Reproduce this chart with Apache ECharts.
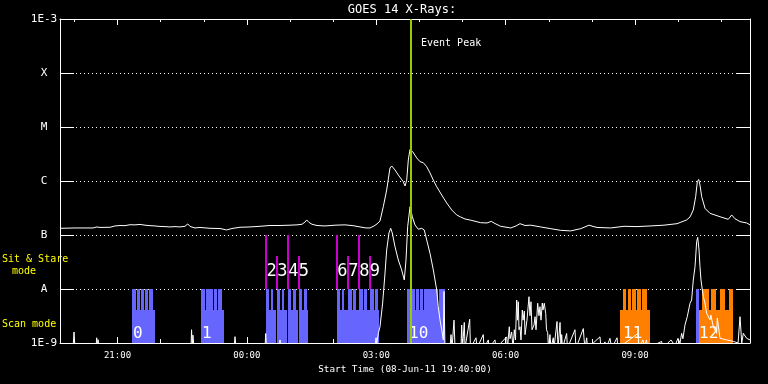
<!DOCTYPE html>
<html><head><meta charset="utf-8">
<script src="https://cdn.jsdelivr.net/npm/echarts@6/dist/echarts.min.js"></script>
<style>html,body{margin:0;padding:0;background:#000}#c{width:768px;height:384px}</style>
</head><body><div id="c"></div>
<script>
// All times: minutes after 08-Jun-11 00:00 UT (values > 1440 fall on 09-Jun)
const startTime = 1180;   // 19:40
const endTime = 2140;     // 11:40 next day
const majorTicks = [1260, 1440, 1620, 1800, 1980];
const minorTicks = [1200, 1320, 1380, 1500, 1560, 1680, 1740, 1860, 1920, 2040, 2100];
const yMin = 1e-9, yMax = 1e-3;
const levelExps = [-9, -8, -7, -6, -5, -4, -3];
const levelLabels = ['1E-9', 'A', 'B', 'C', 'M', 'X', '1E-3'];
const chartTitle = 'GOES 14 X-Rays:';
const xTitle = 'Start Time (08-Jun-11 19:40:00)';
const eventPeak = 1668;
const eventLabel = 'Event Peak';

// GOES long channel (1-8 A), W/m^2
const longWave = [
[1180,1.33e-7],[1200.9,1.35e-7],[1225.9,1.35e-7],[1231.5,1.41e-7],[1235.7,1.38e-7],[1249.6,1.39e-7],
[1256.5,1.47e-7],[1263.5,1.50e-7],[1270.4,1.49e-7],[1277.4,1.55e-7],[1284.3,1.54e-7],[1291.3,1.57e-7],
[1298.3,1.52e-7],[1305.2,1.49e-7],[1312.2,1.47e-7],[1319.1,1.44e-7],[1326.1,1.43e-7],[1333.0,1.41e-7],
[1340.0,1.43e-7],[1346.9,1.41e-7],[1353.9,1.45e-7],[1357.7,1.60e-7],[1360.9,1.44e-7],[1367.8,1.35e-7],
[1374.8,1.38e-7],[1388.7,1.33e-7],[1402.6,1.32e-7],[1411.9,1.24e-7],[1419.3,1.32e-7],[1430.4,1.39e-7],
[1444.3,1.41e-7],[1458.3,1.45e-7],[1472.2,1.50e-7],[1486.1,1.50e-7],[1500.0,1.52e-7],[1509.7,1.54e-7],
[1516.7,1.58e-7],[1520.9,1.74e-7],[1523.2,1.90e-7],[1526.4,1.71e-7],[1530.6,1.58e-7],[1537.6,1.50e-7],
[1548.7,1.47e-7],[1562.6,1.52e-7],[1576.5,1.54e-7],[1587.6,1.49e-7],[1597.4,1.41e-7],[1605.7,1.35e-7],
[1611.3,1.35e-7],[1616.9,1.47e-7],[1621.0,1.60e-7],[1625.2,1.82e-7],[1629.8,3.34e-7],[1634.5,6.81e-7],
[1639.1,1.74e-6],[1641.5,1.90e-6],[1646.1,1.60e-6],[1650.7,1.29e-6],[1657.6,9.70e-7],[1660.0,8.08e-7],
[1662.4,1.04e-6],[1664.6,2.45e-6],[1667.0,3.87e-6],[1670.7,3.49e-6],[1676.3,2.67e-6],[1680.9,2.28e-6],
[1685.5,2.18e-6],[1690.2,1.84e-6],[1694.8,1.41e-6],[1699.4,1.04e-6],[1704.1,7.84e-7],[1711.1,5.50e-7],
[1718.0,3.92e-7],[1725.0,2.91e-7],[1731.9,2.35e-7],[1737.5,2.15e-7],[1743.5,1.98e-7],[1751.4,1.88e-7],
[1765.3,1.69e-7],[1774.1,1.67e-7],[1780.1,1.79e-7],[1785.2,1.63e-7],[1793.1,1.45e-7],[1807.1,1.35e-7],
[1814.4,1.47e-7],[1820.0,1.62e-7],[1827.0,1.50e-7],[1834.9,1.52e-7],[1848.8,1.41e-7],[1862.7,1.31e-7],
[1876.6,1.22e-7],[1890.5,1.19e-7],[1904.5,1.31e-7],[1916.0,1.52e-7],[1921.6,1.44e-7],[1927.1,1.38e-7],
[1946.2,1.35e-7],[1964.7,1.45e-7],[1982.8,1.43e-7],[2000.9,1.47e-7],[2020.3,1.52e-7],[2038.4,1.62e-7],
[2051.9,1.90e-7],[2056.5,2.15e-7],[2061.1,2.91e-7],[2064.4,5.12e-7],[2066.7,9.70e-7],[2068.6,1.07e-6],
[2070.4,8.43e-7],[2072.8,5.12e-7],[2077.4,3.12e-7],[2084.3,2.52e-7],[2098.3,2.18e-7],[2109.8,1.95e-7],
[2114.5,2.35e-7],[2119.1,2.00e-7],[2126.1,1.77e-7],[2135.4,1.67e-7],[2140,1.54e-7]
];

// GOES short channel (0.5-4 A), W/m^2 (values under 1E-9 fall below the plot)
const shortWave = [
[1180,8e-10],[1198.1,8e-10],[1199.5,1.6e-9],[1200.9,8e-10],
[1230.1,8e-10],[1231,1.25e-9],[1232.2,9e-10],[1233,1.15e-9],[1234.3,8e-10],
[1362.3,8e-10],[1363,1.76e-9],[1364,9e-10],[1365,1.4e-9],[1366.4,8e-10],
[1422.1,8e-10],[1423.5,1.31e-9],[1424.9,8e-10],
[1465.2,8e-10],[1466.2,1.5e-9],[1467.3,8e-10],
[1484.7,8e-10],[1486.1,1.14e-9],[1487.5,8e-10],
[1618.3,8e-10],[1619.7,1.25e-9],[1620.5,9e-10],[1621.5,1.14e-9],[1623.1,1.55e-9],
[1625.2,2.0e-9],[1628.9,5.5e-9],[1632.2,1.98e-8],[1634.5,5.27e-8],[1637.7,1.09e-7],[1640.1,1.33e-7],
[1642.3,1.09e-7],[1646.1,6.07e-8],[1650.7,3.44e-8],[1655.4,2.25e-8],[1659.0,1.47e-8],[1661.4,3.44e-8],
[1663.7,1.43e-7],[1667.0,3.34e-7],[1670.2,2.18e-7],[1673.9,1.53e-7],[1678.5,1.28e-7],[1683.2,1.33e-7],
[1686.8,1.24e-7],[1690.2,8.08e-8],[1694.8,4.58e-8],[1699.4,2.25e-8],[1704.1,9.58e-9],[1706.3,4.7e-9],
[1708.7,2.67e-9],[1711.1,1.76e-9],[1713.3,1.14e-9],[1714.3,9.0e-9],[1715.6,8e-10],
[1722.6,8e-10],[1724.0,1.43e-9],[1725.4,8e-10],[1728.2,2.65e-9],[1729.6,8e-10],
[1737.9,8e-10],[1738.9,2.15e-9],[1740.0,8e-10],[1742.5,2.4e-9],[1743.5,8e-10],
[1750.0,2.75e-9],[1751.1,8e-10],[1758.8,1.25e-9],[1760.2,8e-10],[1768.9,1.43e-9],[1769.9,8e-10],
[1775.9,1.14e-9],[1776.9,8e-10],[1785.2,1.14e-9],[1786.6,8e-10],[1801.5,1.3e-9],[1802.6,8e-10],
[1805.1,2.0e-9],[1806.1,1.2e-9],[1808.4,1.6e-9],[1810.3,8e-10],[1812.1,1.76e-9],[1813.7,1.14e-9],
[1815.4,6.25e-9],[1816.5,2.65e-9],[1817.6,5.8e-9],[1818.6,1.76e-9],[1820.0,2.0e-9],[1821.4,1.14e-9],
[1823.2,4.08e-9],[1824.2,2.65e-9],[1826.0,3.9e-9],[1827.0,1.43e-9],[1828.3,1.5e-9],[1829.7,2.65e-9],
[1832.5,7.2e-9],[1833.9,3.2e-9],[1835.3,5.8e-9],[1836.7,1.76e-9],[1838.5,1.76e-9],[1839.5,2.15e-9],
[1840.9,3.07e-9],[1842.3,1.76e-9],[1844.6,5.45e-9],[1846.4,3.2e-9],[1847.8,4.7e-9],[1849.2,2.65e-9],
[1851.0,5.5e-9],[1852.0,4.08e-9],[1853.8,5.45e-9],[1855.8,3.5e-9],[1856.9,1.76e-9],[1858.5,1.55e-9],
[1859.6,8e-10],[1861.7,1.43e-9],[1863.1,8e-10],[1866.3,1.25e-9],[1867.3,8e-10],[1871.5,2.5e-9],
[1872.9,8e-10],[1875.7,2.4e-9],[1877.0,8e-10],[1878.0,1.43e-9],[1879.1,8e-10],[1884.9,1.5e-9],
[1886.0,8e-10],[1896.5,1.76e-9],[1897.9,8e-10],[1908.1,1.85e-9],[1909.0,1.25e-9],[1910.4,8e-10],
[1912.8,1.25e-9],[1913.9,8e-10],[1931.3,1.3e-9],[1932.7,8e-10],[1938.3,1.05e-9],[1939.7,8e-10],
[1945.2,1.22e-9],[1947.6,8e-10],[1955.0,1.25e-9],[1956.3,8e-10],[1984.3,1.51e-9],[1985.3,8e-10],
[1990.9,1.14e-9],[1993,9e-10],[1996.0,1.14e-9],[1997.2,8e-10],[2017.1,1.07e-9],[2018.2,8e-10],
[2030.1,1.14e-9],[2032.9,1.0e-9],[2034.2,8e-10],[2039.8,1.22e-9],[2042.6,1.0e-9],[2044.9,1.51e-9],
[2046.7,1.2e-9],[2049.5,2.15e-9],[2052.7,3.07e-9],[2056.5,5.43e-9],[2058.8,6.25e-9],[2061.1,1.47e-8],
[2063.5,2.59e-8],[2065.8,7.52e-8],[2067.2,9.06e-8],[2069.1,5.27e-8],[2070.4,2.59e-8],[2071.8,1.47e-8],
[2075.0,7.2e-9],[2077.4,5.43e-9],[2079.7,3.55e-9],[2084.3,2.67e-9],[2085.5,3.3e-9],[2088.9,2.0e-9],
[2093.6,1.51e-9],[2094.5,2.9e-9],[2098.3,1.22e-9],[2107.6,1.14e-9],[2116.8,1.07e-9],[2123.4,1.0e-9],
[2126.1,3.07e-9],[2128.5,1.0e-9],[2130.7,1.51e-9],[2135.4,1.22e-9],[2140,1.14e-9]
];

// Scan-mode rasters: [start, end]
const scanLowLevel = 4.08e-9;
const scanHighLevel = 1e-8;
const scanLow = [
[1280.2,1312.2],[1376.2,1408.2],
[1466.6,1480.5],[1481.9,1495.8],[1497.2,1511.1],[1512.5,1525.5],
[1565.4,1580.3],[1581.1,1595.6],[1596.4,1610.9],[1611.7,1623.8],
[1662.4,1715.6]
];
const scanHigh = [
[1280.2,1285.2],[1286.8,1290.8],[1292.3,1296.4],[1298.0,1302.4],[1304.0,1308.9],
[1376.2,1381.2],[1382.5,1386.7],[1387.7,1392.2],[1393.6,1397.9],[1399.8,1405.0],
[1466.6,1471.2],[1473.4,1477.0],[1481.5,1486.5],[1488.2,1492.3],[1496.8,1501.8],[1503.6,1508.0],[1512.1,1517.1],[1518.9,1523.4],
[1565.4,1570.0],[1572.1,1575.7],[1581.1,1585.8],[1587.4,1591.6],[1596.4,1601.1],[1602.7,1606.9],[1611.7,1616.4],[1618.1,1622.2],
[1662.4,1673.5],[1674.9,1679.5],[1680.5,1685.0],[1686.0,1690.3],[1691.0,1695.8],[1696.6,1701.4],[1702.2,1706.6],[1707.3,1715.6],
[2064.9,2069.1]
];
const orangeLow = [[1959.1,2000.9],[2069.1,2115.9]];
const orangeHigh = [
[1963.3,1967.9],[1969.6,1974.4],[1976.0,1980.9],[1982.9,1988.3],[1989.9,1996.7],
[2073.2,2082.5],[2086.1,2092.2],[2098.3,2105.2],[2110.3,2115.9]
];

// Sit & stare pointings: [time, top level]
const sitStare = [
[1467.3,1e-7],[1482.2,4.08e-8],[1497.5,1e-7],[1512.1,4.08e-8],
[1565.8,1e-7],[1581.1,4.08e-8],[1596.4,1e-7],[1610.9,4.08e-8]
];
const sitStareNames = ['2','3','4','5','6','7','8','9'];
const sitStareLabelLevel = 2.07e-8;

// Scan-mode group numbers
const scanGroupTimes = [1281.6, 1377.6, 1665.6, 1963.3, 2069.1];
const scanGroupNames = ['0', '1', '10', '11', '12'];
const scanLabelLevel = 1.45e-9;

const FONT = 'DejaVu Sans Mono';
const WHITE = '#ffffff';
const BLUE = '#6666ff';
const ORANGE = '#ff8000';
const MAGENTA = '#cc00cc';
const PEAK = '#99cc00';
const YELLOW = '#ffff00';

function pad(n){ return (n < 10 ? '0' : '') + n; }
function fmtTime(v){ const m = Math.round(v); return pad(Math.floor(m/60)%24) + ':' + pad(m%60); }
function levelName(v){ const e = Math.round(Math.log10(v)); const i = levelExps.indexOf(e); return i >= 0 ? levelLabels[i] : ''; }

function rectSeries(spans, top, color, z){
  return {
    type:'custom', z:z, xAxisIndex:0, yAxisIndex:0, silent:true,
    data: spans.map(s => [s[0], s[1], top]),
    encode:{x:[0,1], y:2},
    renderItem:(p, api) => {
      const a = api.coord([api.value(0), api.value(2)]);
      const b = api.coord([api.value(1), yMin]);
      const x0 = Math.round(a[0]), x1 = Math.round(b[0]);
      const y0 = Math.round(a[1]), y1 = Math.round(b[1]);
      return {type:'rect', shape:{x:x0, y:y0, width:Math.max(1, x1-x0), height:y1-y0}, style:{fill:color}};
    }
  };
}

const xBase = {type:'value', min:startTime, max:endTime, splitLine:{show:false}, gridIndex:0};
const lineW = {color:WHITE, width:1};

const option = {
  backgroundColor:'#000',
  animation:false,
  grid:{left:60, top:19, width:690, height:324, show:false},
  graphic:[
    {type:'text', x:402, y:10, style:{text:chartTitle, fill:WHITE, font:'12px "'+FONT+'"', align:'center', verticalAlign:'middle'}},
    {type:'text', x:2, y:259, style:{text:'Sit & Stare', fill:YELLOW, font:'10px "'+FONT+'"', align:'left', verticalAlign:'middle'}},
    {type:'text', x:24, y:271, style:{text:'mode', fill:YELLOW, font:'10px "'+FONT+'"', align:'center', verticalAlign:'middle'}},
    {type:'text', x:2, y:324, style:{text:'Scan mode', fill:YELLOW, font:'10px "'+FONT+'"', align:'left', verticalAlign:'middle'}}
  ],
  xAxis:[
    Object.assign({}, xBase, {position:'bottom',
      axisLine:{show:true, onZero:false, lineStyle:lineW},
      axisTick:{show:true, inside:true, length:6, customValues:majorTicks, lineStyle:lineW},
      axisLabel:{show:true, customValues:majorTicks, formatter:fmtTime, color:WHITE, fontFamily:FONT, fontSize:9, margin:8},
      name:xTitle, nameLocation:'middle', nameGap:20,
      nameTextStyle:{color:WHITE, fontFamily:FONT, fontSize:9.3}}),
    Object.assign({}, xBase, {position:'bottom',
      axisLine:{show:false, onZero:false},
      axisTick:{show:true, inside:true, length:4, customValues:minorTicks, lineStyle:lineW},
      axisLabel:{show:false}}),
    Object.assign({}, xBase, {position:'top',
      axisLine:{show:true, onZero:false, lineStyle:lineW},
      axisTick:{show:true, inside:true, length:6, customValues:majorTicks, lineStyle:lineW},
      axisLabel:{show:false}}),
    Object.assign({}, xBase, {position:'top',
      axisLine:{show:false, onZero:false},
      axisTick:{show:true, inside:true, length:3, customValues:minorTicks, lineStyle:lineW},
      axisLabel:{show:false}})
  ],
  yAxis:[
    {type:'log', logBase:10, min:yMin, max:yMax, position:'left',
      axisLine:{show:true, onZero:false, lineStyle:lineW},
      axisTick:{show:true, inside:true, length:14, lineStyle:lineW},
      axisLabel:{formatter:levelName, color:WHITE, fontFamily:FONT, fontSize:11, align:'center', margin:16},
      splitLine:{show:true, lineStyle:{color:WHITE, width:1, type:[1,3]}}},
    {type:'log', logBase:10, min:yMin, max:yMax, position:'right',
      axisLine:{show:true, onZero:false, lineStyle:lineW},
      axisTick:{show:true, inside:true, length:14, lineStyle:lineW},
      axisLabel:{show:false}, splitLine:{show:false}}
  ],
  series:[
    rectSeries(scanLow, scanLowLevel, BLUE, 1),
    rectSeries(scanHigh, scanHighLevel, BLUE, 1),
    rectSeries(orangeLow, scanLowLevel, ORANGE, 1),
    rectSeries(orangeHigh, scanHighLevel, ORANGE, 1),
    {type:'custom', z:2, silent:true, xAxisIndex:0, yAxisIndex:0,
      data: sitStare.map(d => [d[0], d[1]]), encode:{x:0, y:1},
      renderItem:(p, api) => {
        const a = api.coord([api.value(0), api.value(1)]);
        const b = api.coord([api.value(0), scanHighLevel]);
        return {type:'rect', shape:{x:Math.round(a[0])-1, y:Math.round(a[1]), width:2, height:Math.round(b[1])-Math.round(a[1])}, style:{fill:MAGENTA}};
      }},
    {type:'custom', z:4, silent:true, xAxisIndex:0, yAxisIndex:0,
      data: sitStare.map(d => [d[0], sitStareLabelLevel]), encode:{x:0, y:1},
      renderItem:(p, api) => {
        const a = api.coord([api.value(0), api.value(1)]);
        return {type:'text', x:a[0], y:a[1], style:{text:sitStareNames[p.dataIndex], fill:WHITE, font:'17px "'+FONT+'"', align:'left', verticalAlign:'middle'}};
      }},
    {type:'custom', z:4, silent:true, xAxisIndex:0, yAxisIndex:0,
      data: scanGroupTimes.map(t => [t, scanLabelLevel]), encode:{x:0, y:1},
      renderItem:(p, api) => {
        const a = api.coord([api.value(0), api.value(1)]);
        return {type:'text', x:a[0], y:a[1], style:{text:scanGroupNames[p.dataIndex], fill:WHITE, font:'16px "'+FONT+'"', align:'left', verticalAlign:'middle'}};
      }},
    {type:'line', name:'1-8 A', z:3, xAxisIndex:0, yAxisIndex:0, data:longWave, showSymbol:false, symbol:'none', clip:true,
      lineStyle:{color:WHITE, width:1}},
    {type:'line', name:'0.5-4 A', z:3, xAxisIndex:0, yAxisIndex:0, data:shortWave, showSymbol:false, symbol:'none', clip:true,
      lineStyle:{color:WHITE, width:1}},
    {type:'custom', z:6, silent:true, xAxisIndex:0, yAxisIndex:0,
      data:[[eventPeak, yMax]], encode:{x:0, y:1},
      renderItem:(p, api) => {
        const a = api.coord([api.value(0), yMax]);
        const b = api.coord([api.value(0), yMin]);
        const x = Math.round(a[0]);
        return {type:'group', children:[
          {type:'rect', shape:{x:x-1, y:a[1], width:2, height:b[1]-a[1]}, style:{fill:PEAK}},
          {type:'text', x:x+10, y:a[1]+24, style:{text:eventLabel, fill:WHITE, font:'10px "'+FONT+'"', align:'left', verticalAlign:'middle'}}
        ]};
      }}
  ]
};
const chart = echarts.init(document.getElementById('c'));
chart.setOption(option);
</script>
</body></html>
